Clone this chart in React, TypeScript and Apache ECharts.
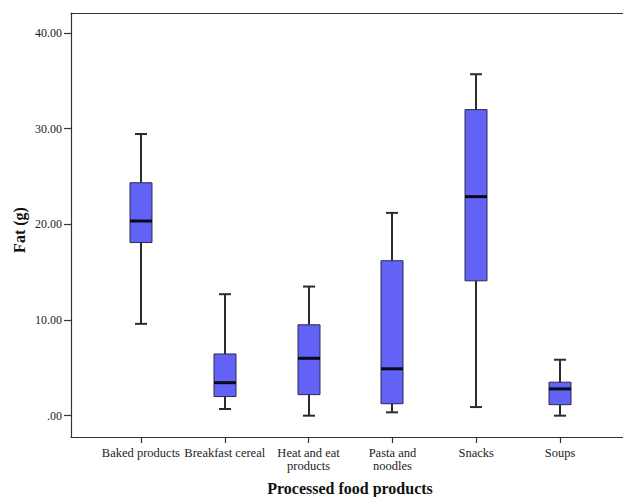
import { useEffect, useRef } from 'react';
import * as echarts from 'echarts';

const categories = [
  'Baked products',
  'Breakfast cereal',
  'Heat and eat\nproducts',
  'Pasta and\nnoodles',
  'Snacks',
  'Soups',
];
const whiskerLow = [9.6, 0.7, 0.0, 0.35, 0.9, 0.0];
const q1 = [18.1, 2.0, 2.2, 1.25, 14.1, 1.15];
const median = [20.35, 3.45, 6.0, 4.9, 22.9, 2.8];
const q3 = [24.35, 6.45, 9.5, 16.2, 32.0, 3.5];
const whiskerHigh = [29.45, 12.7, 13.5, 21.2, 35.7, 5.85];
const yTicks = [0, 10, 20, 30, 40];
const yMin = -2.23;
const yMax = 42.1;

const FONT = '"Liberation Serif", "DejaVu Serif", serif';

export default function App() {
  const ref = useRef<HTMLDivElement>(null);
  useEffect(() => {
    document.body.style.margin = '0';
    if (!ref.current) return;
    const chart = echarts.init(ref.current, null, { renderer: 'svg' });
    const data = categories.map((_, i) => [i, whiskerLow[i], q1[i], median[i], q3[i], whiskerHigh[i]]);
    const frameLine = { show: true, onZero: false, lineStyle: { color: '#333', width: 1.2 } };
    const option: any = {
      animation: false,
      backgroundColor: '#ffffff',
      grid: [
        { left: 71, top: 13, right: -5, bottom: 60 },
        { left: 99, top: 13, width: 503, bottom: 60 },
      ],
      xAxis: [
        {
          type: 'value', gridIndex: 0, position: 'bottom', min: 0, max: 1,
          axisLine: frameLine,
          axisTick: { show: false }, axisLabel: { show: false }, splitLine: { show: false },
        },
        {
          type: 'value', gridIndex: 0, position: 'top', min: 0, max: 1,
          axisLine: frameLine,
          axisTick: { show: false }, axisLabel: { show: false }, splitLine: { show: false },
        },
        {
          type: 'category', gridIndex: 1, data: categories,
          axisLine: { show: false, onZero: false },
          axisTick: { show: true, alignWithLabel: true, length: 6, lineStyle: { color: '#333', width: 1.2 } },
          axisLabel: { fontFamily: FONT, fontSize: 12.5, color: '#222', margin: 9, lineHeight: 13, interval: 0 },
          splitLine: { show: false },
        },
      ],
      yAxis: [
        {
          type: 'value', gridIndex: 0, min: yMin, max: yMax,
          axisLine: frameLine,
          axisTick: { show: true, length: 7, customValues: yTicks, lineStyle: { color: '#333', width: 1.2 } },
          axisLabel: {
            customValues: yTicks, fontFamily: FONT, fontSize: 12, color: '#222', margin: 9,
            formatter: (v: number) => (v === 0 ? '.00' : v.toFixed(2)),
          },
          splitLine: { show: false },
        },
        {
          type: 'value', gridIndex: 1, min: yMin, max: yMax, show: false,
        },
      ],
      graphic: [
        {
          type: 'text', x: 350, y: 488,
          style: { text: 'Processed food products', fontFamily: FONT, fontSize: 16, fontWeight: 'bold', fill: '#111', textAlign: 'center', textVerticalAlign: 'middle' },
        },
        {
          type: 'text', x: 19, y: 230, rotation: Math.PI / 2,
          style: { text: 'Fat (g)', fontFamily: FONT, fontSize: 16, fontWeight: 'bold', fill: '#111', textAlign: 'center', textVerticalAlign: 'middle' },
        },
      ],
      series: [
        {
          type: 'custom', xAxisIndex: 2, yAxisIndex: 1, data,
          encode: { x: 0, y: [1, 2, 3, 4, 5] },
          renderItem: (params: any, api: any) => {
            const i = api.value(0);
            const pLow = api.coord([i, api.value(1)]);
            const pQ1 = api.coord([i, api.value(2)]);
            const pMed = api.coord([i, api.value(3)]);
            const pQ3 = api.coord([i, api.value(4)]);
            const pHigh = api.coord([i, api.value(5)]);
            const x = Math.round(pLow[0]);
            const bw = 22;
            const cw = 12;
            const ws = { stroke: '#2b2b2b', lineWidth: 2 };
            return {
              type: 'group',
              children: [
                { type: 'line', shape: { x1: x, y1: pHigh[1], x2: x, y2: pQ3[1] }, style: ws },
                { type: 'line', shape: { x1: x, y1: pQ1[1], x2: x, y2: pLow[1] }, style: ws },
                { type: 'line', shape: { x1: x - cw / 2, y1: pHigh[1], x2: x + cw / 2, y2: pHigh[1] }, style: ws },
                { type: 'line', shape: { x1: x - cw / 2, y1: pLow[1], x2: x + cw / 2, y2: pLow[1] }, style: ws },
                {
                  type: 'rect',
                  shape: { x: x - bw / 2, y: pQ3[1], width: bw, height: pQ1[1] - pQ3[1] },
                  style: { fill: '#6262f6', stroke: '#2a2a4a', lineWidth: 1 },
                },
                { type: 'line', shape: { x1: x - bw / 2, y1: pMed[1], x2: x + bw / 2, y2: pMed[1] }, style: { stroke: '#0a0a1a', lineWidth: 3 } },
              ],
            };
          },
        },
      ],
    };
    chart.setOption(option);
    return () => chart.dispose();
  }, []);
  return <div ref={ref} style={{ width: 623, height: 497 }} />;
}
